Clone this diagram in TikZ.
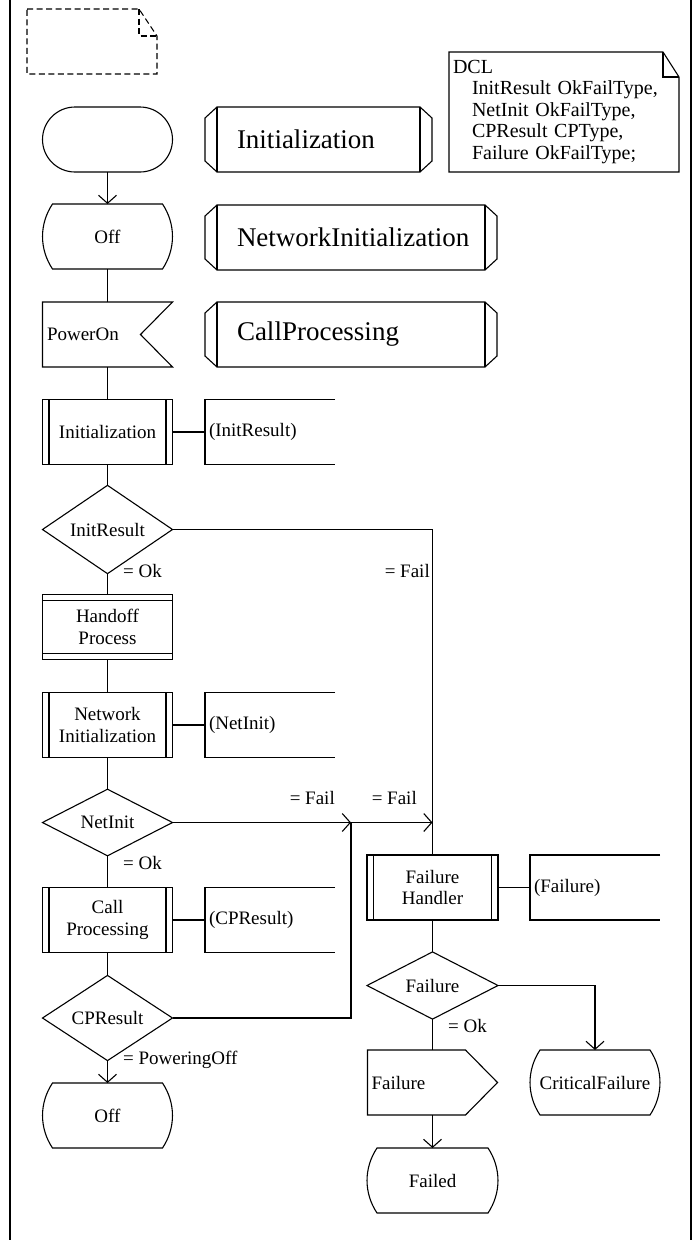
\documentclass[tikz,border=0pt]{standalone}
\usepackage{fontspec}
\setmainfont{Liberation Serif}
\usetikzlibrary{arrows.meta,shapes.geometric}

\newcommand\fs[1]{\fontsize{#1}{21.5}\selectfont}

% SDL symbol outlines, drawn around plain (undrawn) nodes
\newcommand\sdlstate[1]{%
  \draw[sym] ([xshift=10pt]#1.north west) -- ([xshift=-10pt]#1.north east)
    .. controls ([xshift=3.3pt,yshift=-20pt]#1.north east) and ([xshift=3.3pt,yshift=20pt]#1.south east) .. ([xshift=-10pt]#1.south east)
    -- ([xshift=10pt]#1.south west)
    .. controls ([xshift=-3.3pt,yshift=20pt]#1.south west) and ([xshift=-3.3pt,yshift=-20pt]#1.north west) .. cycle;}
\newcommand\sdlinput[1]{%
  \draw[sym] (#1.north west) -- (#1.north east) -- ([xshift=-32pt]#1.east)
    -- (#1.south east) -- (#1.south west) -- cycle;}
\newcommand\sdloutput[1]{%
  \draw[sym] (#1.north west) -- ([xshift=-32pt]#1.north east) -- (#1.east)
    -- ([xshift=-32pt]#1.south east) -- (#1.south west) -- cycle;}
\newcommand\sdlpref[1]{%
  \draw[sym] ([xshift=12pt]#1.north west) -- ([xshift=-12pt]#1.north east)
    -- ([yshift=-11pt]#1.north east) -- ([yshift=11pt]#1.south east)
    -- ([xshift=-12pt]#1.south east) -- ([xshift=12pt]#1.south west)
    -- ([yshift=11pt]#1.south west) -- ([yshift=-11pt]#1.north west) -- cycle;
  \draw[sym] ([xshift=12pt]#1.north west) -- ([xshift=12pt]#1.south west)
             ([xshift=-12pt]#1.north east) -- ([xshift=-12pt]#1.south east);}
\newcommand\sdltext[1]{%
  \draw[sym] (#1.north east) -- (#1.north west) -- (#1.south west) -- (#1.south east);}
\newcommand\sdlnote[4][]{% style, node, fold width, fold height
  \draw[sym,#1] (#2.north west) -- ([xshift=-#3]#2.north east) -- ([yshift=-#4]#2.north east)
    -- (#2.south east) -- (#2.south west) -- cycle;
  \draw[sym,#1] ([xshift=-#3]#2.north east) |- ([yshift=-#4]#2.north east);}

\tikzset{
  sym/.style={line width=1.1pt, line join=miter},
  base/.style={font=\fs{19}, inner sep=0pt, outer sep=0pt, align=center},
  plain/.style={base, minimum width=130pt, minimum height=65pt},
  procbox/.style={plain, draw, sym, path picture={
      \draw[sym] ([xshift=6.5pt]path picture bounding box.north west) -- ([xshift=6.5pt]path picture bounding box.south west)
                 ([xshift=-6.5pt]path picture bounding box.north east) -- ([xshift=-6.5pt]path picture bounding box.south east);}},
  svcbox/.style={plain, draw, sym, path picture={
      \draw[sym] ([yshift=-6pt]path picture bounding box.north west) -- ([yshift=-6pt]path picture bounding box.north east)
                 ([yshift=6pt]path picture bounding box.south west) -- ([yshift=6pt]path picture bounding box.south east);}},
  decision/.style={base, diamond, draw, sym, minimum width=130pt, minimum height=65pt},
  term/.style={plain, draw, sym, rounded corners=32.5pt},
  lefttext/.style={plain, text width=122pt, inner xsep=4pt, align=left},
  prefbox/.style={base, font=\fs{27}, minimum height=65pt, inner xsep=32pt, align=left},
  lbl/.style={font=\fs{19}, inner sep=0pt},
  arr/.style={sym, -{Straight Barb[length=8pt,width=18pt]}},
}

\begin{document}
\begin{tikzpicture}[x=1pt,y=-1pt]
\useasboundingbox (0,0) rectangle (695,1240);
\draw[line width=1.3pt] (10,0) -- (10,1240) (691,0) -- (691,1240);

% comment symbols
\node[plain] (blank) at (92,41.5) {};
\sdlnote[dash pattern=on 6pt off 3.5pt]{blank}{18pt}{27pt}
\node[base, font=\fs{20}, minimum width=230pt, minimum height=120pt,
      text width=222pt, inner xsep=4pt, align=left] (dcl) at (564,112)
  {DCL\\\hspace*{19pt}InitResult OkFailType,\\\hspace*{19pt}NetInit OkFailType,\\
   \hspace*{19pt}CPResult CPType,\\\hspace*{19pt}Failure OkFailType;};
\sdlnote{dcl}{16pt}{25pt}

% procedure references
\node[prefbox, text width=163pt] (pr1) at (318.5,139.5) {Initialization};
\node[prefbox, text width=228pt] (pr2) at (351,237.5) {\mbox{NetworkInitialization}};
\node[prefbox, text width=228pt] (pr3) at (351,334.5) {CallProcessing};
\sdlpref{pr1}\sdlpref{pr2}\sdlpref{pr3}

% main column
\node[term] (start) at (107.5,139.5) {};
\node[plain] (off1) at (107.5,236.5) {Off};
\node[lefttext, text width=121pt] (pon) at (107.5,334.5) {PowerOn};
\node[procbox] (init) at (107.5,432) {Initialization};
\node[lefttext] (ext1) at (270,432) {(InitResult)};
\node[decision] (dec1) at (107.5,529.5) {InitResult};
\node[svcbox] (hand) at (107.5,627) {Handoff\\Process};
\node[procbox] (netp) at (107.5,725) {Network\\Initialization};
\node[lefttext] (ext2) at (270,725) {(NetInit)};
\node[decision] (dec2) at (107.5,822.5) {NetInit};
\node[procbox] (callp) at (107.5,920) {Call\\Processing};
\node[lefttext] (ext3) at (270,920) {(CPResult)};
\node[decision] (dec3) at (107.5,1018) {CPResult};
\node[plain] (off2) at (107.5,1115.5) {Off};
\sdlstate{off1}\sdlinput{pon}\sdlstate{off2}
\sdltext{ext1}\sdltext{ext2}\sdltext{ext3}

% failure column
\node[procbox, minimum width=131pt] (fh) at (432.5,887.5) {Failure\\Handler};
\node[lefttext] (ext4) at (595,887.5) {(Failure)};
\node[decision, minimum width=131pt] (dec4) at (432.5,985.5) {Failure};
\node[lefttext] (outf) at (432.5,1082.5) {Failure};
\node[plain] (crit) at (595,1082.5) {CriticalFailure};
\node[plain, minimum width=131pt] (failed) at (432.5,1180.5) {Failed};
\sdltext{ext4}\sdloutput{outf}\sdlstate{crit}\sdlstate{failed}

% connectors
\draw[arr] (start) -- (off1);
\draw[sym] (off1) -- (pon);
\draw[sym] (pon) -- (init);
\draw[sym] (init) -- (ext1);
\draw[sym] (init) -- (dec1);
\draw[sym] (dec1) -- (hand);
\draw[sym] (hand) -- (netp);
\draw[sym] (netp) -- (ext2);
\draw[sym] (netp) -- (dec2);
\draw[sym] (dec2) -- (callp);
\draw[sym] (callp) -- (ext3);
\draw[sym] (callp) -- (dec3);
\draw[arr] (dec3) -- (off2);

\coordinate (j1) at (351,822.5);
\coordinate (j2) at (fh.north |- j1);
\draw[sym] (dec1.east) -| (fh.north);
\draw[arr] (dec2.east) -- (j1);
\draw[sym] (dec3.east) -| (j1);
\draw[arr] (j1) -- (j2);

\draw[sym] (fh) -- (ext4);
\draw[sym] (fh) -- (dec4);
\draw[arr] (dec4.east) -| (crit.north);
\draw[sym] (dec4) -- (outf);
\draw[arr] (outf) -- (failed);

% branch labels
\node[lbl, anchor=base west] (ok1) at (123,577) {= Ok};
\node[lbl, anchor=base east] (fail1) at (430,577) {= Fail};
\node[lbl, anchor=base east] (fail2) at (335,804) {= Fail};
\node[lbl, anchor=base east] (fail3) at (417,804) {= Fail};
\node[lbl, anchor=base west] (ok2) at (123,869) {= Ok};
\node[lbl, anchor=base west] (poff) at (123,1064) {= PoweringOff};
\node[lbl, anchor=base west] (ok3) at (448,1032) {= Ok};
\end{tikzpicture}
\end{document}
